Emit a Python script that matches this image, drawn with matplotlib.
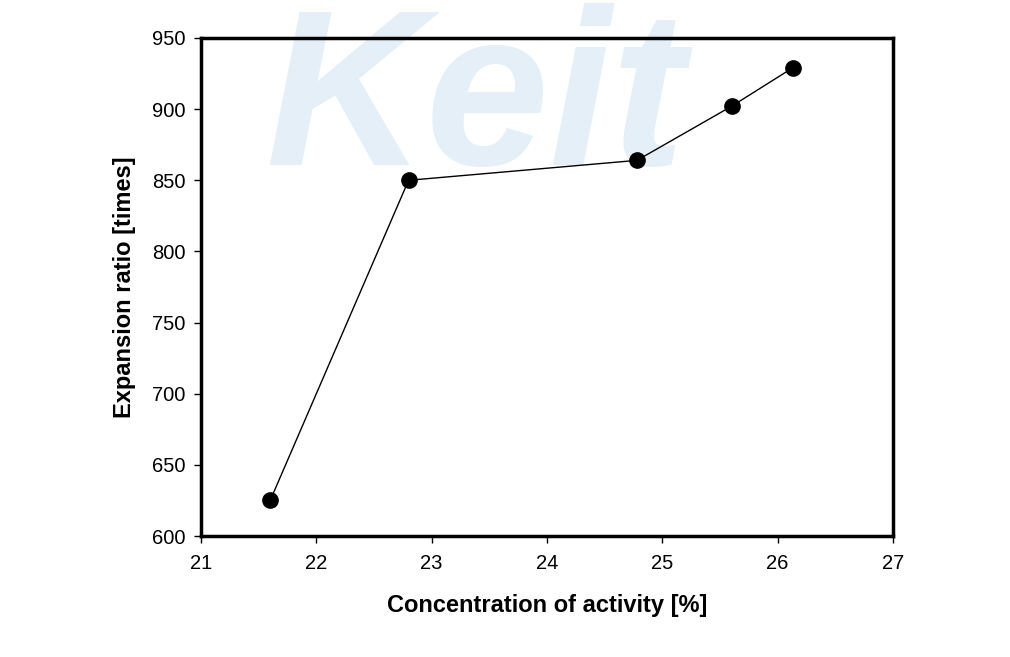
import matplotlib
matplotlib.use("Agg")
import matplotlib.pyplot as plt

concentration = [21.6, 22.8, 24.78, 25.6, 26.13]
expansion = [625, 850, 864, 902, 929]
x_ticks = [21, 22, 23, 24, 25, 26, 27]
y_ticks = [600, 650, 700, 750, 800, 850, 900, 950]

plt.rcParams['font.family'] = ['Liberation Sans', 'DejaVu Sans']

fig = plt.figure(figsize=(10.1, 6.57), dpi=100)
ax = fig.add_axes([201 / 1010, 1 - 536 / 657, 692 / 1010, 498 / 657])
ax.set_facecolor("none")

# faint watermark behind the plot
fig.text(0.47, 0.995, "Keit", fontsize=160, fontstyle="italic", fontweight="bold",
         color="#e4eff7", ha="center", va="top", zorder=-10)

ax.plot(concentration, expansion, color="black", lw=1.0, marker="o",
        markersize=11, markerfacecolor="black", zorder=3)

ax.set_xlim(21, 27)
ax.set_ylim(600, 950)
ax.set_xticks(x_ticks)
ax.set_yticks(y_ticks)
ax.tick_params(direction="out", length=5, width=1, labelsize=14.5)
ax.tick_params(axis="x", pad=8)
ax.tick_params(axis="y", pad=6)
for s in ax.spines.values():
    s.set_linewidth(2.5)

ax.set_xlabel("Concentration of activity [%]", fontsize=17, fontweight="bold", labelpad=15)
ax.set_ylabel("Expansion ratio [times]", fontsize=17, fontweight="bold", labelpad=12)

fig.savefig("out.png", dpi=100)
